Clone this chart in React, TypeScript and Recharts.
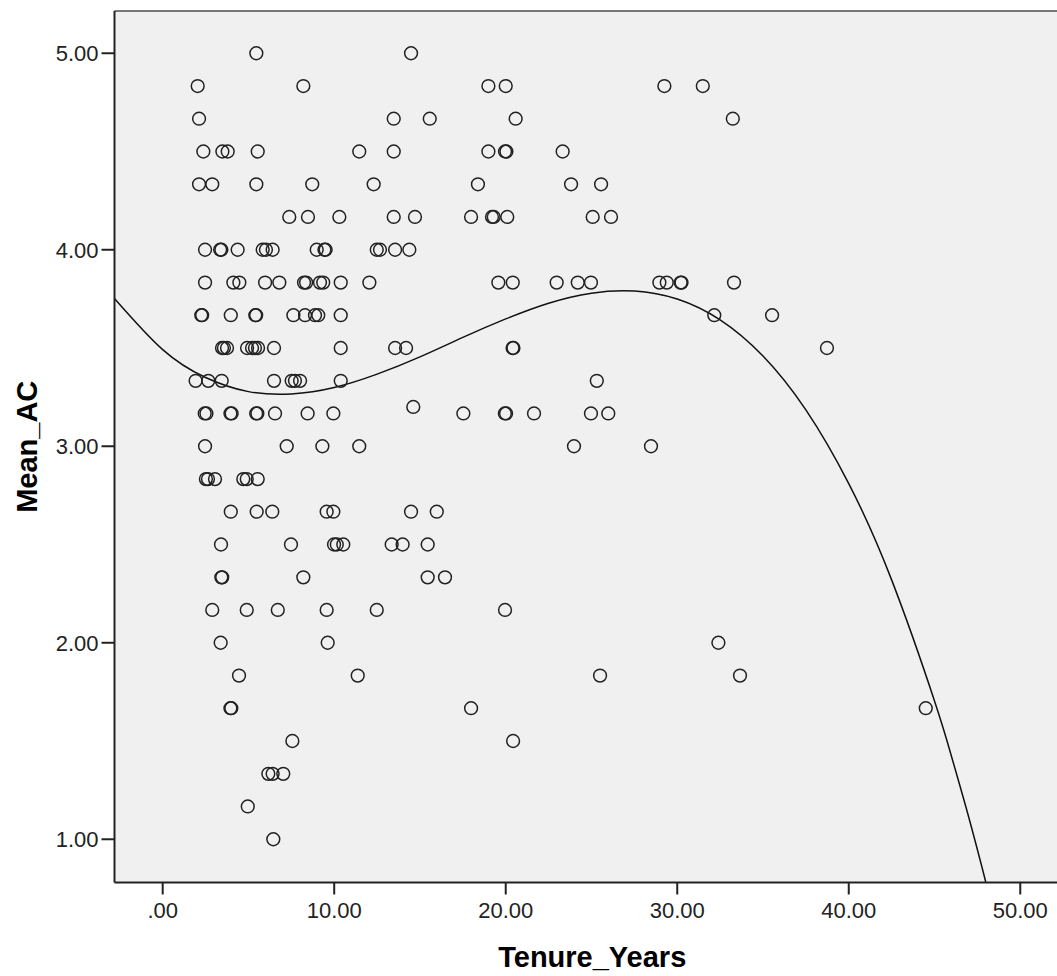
import React from 'react';
import { ComposedChart, Scatter, Line, XAxis, YAxis, CartesianGrid, ReferenceLine } from 'recharts';

// Mean_AC levels (rows of the scatter) and the Tenure_Years values read at each level
const acLevels = [
  5.0, 4.833, 4.667, 4.5, 4.333, 4.167, 4.0, 3.833, 3.667, 3.5, 3.333, 3.2, 3.167,
  3.0, 2.833, 2.667, 2.5, 2.333, 2.167, 2.0, 1.833, 1.667, 1.5, 1.333, 1.167, 1.0,
];
const tenureAtLevel = [
  [5.46, 14.48],
  [2.04, 8.2, 18.99, 20.0, 29.25, 31.49],
  [2.12, 13.47, 15.57, 20.58, 33.24],
  [2.37, 3.48, 3.79, 5.54, 11.46, 13.47, 18.99, 19.96, 20.04, 23.32],
  [2.12, 2.89, 5.46, 8.72, 12.3, 18.38, 23.81, 25.56],
  [7.38, 8.47, 10.3, 13.47, 14.71, 17.98, 19.2, 19.3, 20.09, 25.07, 26.14],
  [2.47, 3.35, 3.42, 4.37, 5.83, 6.02, 6.41, 8.98, 9.43, 9.5, 12.48, 12.67, 13.55, 14.38],
  [2.47, 4.12, 4.47, 5.97, 6.8, 8.24, 8.36, 9.17, 9.36, 10.38, 12.05, 19.57, 20.41, 22.97, 24.2, 24.97, 28.96, 29.39, 30.2, 30.25, 33.31],
  [2.25, 2.3, 3.97, 5.4, 5.45, 7.62, 8.3, 8.88, 9.07, 10.38, 32.16, 35.53],
  [3.46, 3.57, 3.75, 4.92, 5.21, 5.38, 5.56, 6.49, 10.38, 13.55, 14.19, 20.4, 20.45, 38.73],
  [1.92, 2.66, 3.44, 6.49, 7.52, 7.71, 8.01, 10.38, 25.31],
  [14.61],
  [2.45, 2.55, 3.95, 4.02, 5.45, 5.52, 6.55, 8.45, 9.95, 17.53, 19.95, 20.02, 21.65, 24.97, 25.98],
  [2.47, 7.23, 9.31, 11.46, 23.98, 28.47],
  [2.52, 2.64, 3.05, 4.7, 4.9, 5.54],
  [3.97, 5.48, 6.39, 9.56, 9.95, 14.48, 15.98],
  [3.4, 7.48, 9.99, 10.15, 10.53, 13.35, 13.99, 15.45],
  [3.42, 3.47, 8.2, 15.45, 16.46],
  [2.89, 4.9, 6.71, 9.56, 12.48, 19.96],
  [3.38, 9.62, 32.4],
  [4.45, 11.37, 25.5, 33.66],
  [3.95, 4.0, 17.98, 44.49],
  [7.56, 20.43],
  [6.16, 6.41, 7.03],
  [4.96],
  [6.45],
];

// Fitted curve
const fitTenure = [-2.8, 0, 2.5, 5, 7.5, 10, 12.5, 15, 17.5, 20, 22.5, 25, 27.5, 30, 32.5, 35, 37.5, 40, 42.5, 45, 46, 47, 48, 48.5];
const fitMeanAC = [3.751, 3.492, 3.35, 3.278, 3.266, 3.299, 3.367, 3.455, 3.554, 3.648, 3.728, 3.779, 3.79, 3.749, 3.643, 3.459, 3.185, 2.81, 2.32, 1.704, 1.419, 1.111, 0.779, 0.604];

const xTicks = [0, 10, 20, 30, 40, 50];
const yTicks = [1, 2, 3, 4, 5];
const xDomain: [number, number] = [-2.81, 52.9];
const yDomain: [number, number] = [0.78, 5.215];

const points = acLevels.flatMap((y, i) => tenureAtLevel[i].map((x) => ({ x, y })));
const fit = fitTenure.map((x, i) => ({ x, y: fitMeanAC[i] }));

const fmt = (v: number) => (v === 0 ? '.00' : v.toFixed(2));

const Ring = (props: any) => {
  if (props.cx == null || props.cy == null) return null;
  return <circle cx={props.cx} cy={props.cy} r={6.4} fill="none" stroke="#222" strokeWidth={1.5} />;
};

const axisStroke = { stroke: '#222', strokeWidth: 2 };
const tickStyle = { fontSize: 22, fill: '#222' };
const titleStyle = { fontSize: 29, fontWeight: 'bold' as const, fill: '#000' };

export default function App() {
  return (
    <div
      style={{
        position: 'absolute',
        left: 0,
        top: 0,
        width: 1057,
        height: 976,
        overflow: 'hidden',
        background: '#fff',
        fontFamily: '"Liberation Sans", Arial, sans-serif',
      }}
    >
      <ComposedChart width={1080} height={976} margin={{ top: 11, right: 10, bottom: 0, left: 0 }}>
        <CartesianGrid fill="#f0f0f0" horizontal={false} vertical={false} />
        <XAxis
          type="number"
          dataKey="x"
          domain={xDomain}
          ticks={xTicks}
          allowDataOverflow
          tickFormatter={fmt}
          height={93.5}
          tickSize={12}
          tickMargin={8}
          axisLine={axisStroke}
          tickLine={axisStroke}
          tick={tickStyle}
          label={{ value: 'Tenure_Years', position: 'insideBottom', offset: 8.7, style: titleStyle }}
        />
        <YAxis
          type="number"
          dataKey="y"
          domain={yDomain}
          ticks={yTicks}
          allowDataOverflow
          tickFormatter={fmt}
          width={114.5}
          tickSize={13}
          tickMargin={3}
          axisLine={axisStroke}
          tickLine={axisStroke}
          tick={tickStyle}
          label={{
            value: 'Mean_AC',
            angle: -90,
            position: 'insideLeft',
            offset: 27,
            style: { ...titleStyle, textAnchor: 'middle' },
          }}
        />
        <ReferenceLine y={yDomain[1]} stroke="#777" strokeWidth={2} ifOverflow="visible" />
        <Scatter data={points} shape={Ring} isAnimationActive={false} />
        <Line
          data={fit}
          dataKey="y"
          type="natural"
          dot={false}
          activeDot={false}
          stroke="#111"
          strokeWidth={1.5}
          isAnimationActive={false}
        />
      </ComposedChart>
    </div>
  );
}
